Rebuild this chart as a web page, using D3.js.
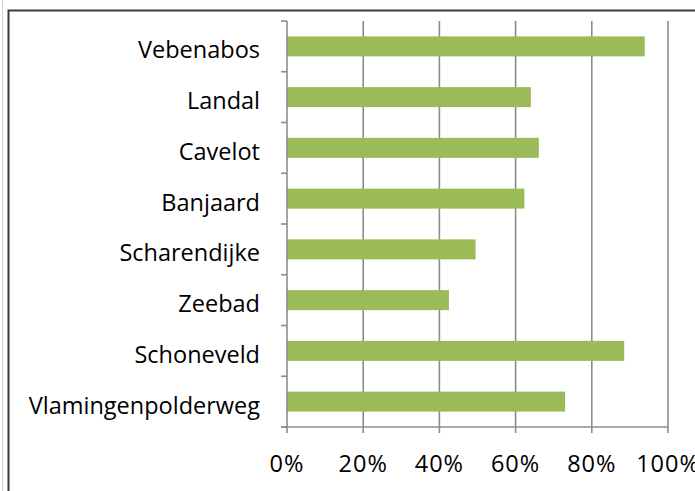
<!DOCTYPE html>
<html>
<head>
<meta charset="utf-8">
<script src="https://cdn.jsdelivr.net/npm/d3@7"></script>
<style>
  html, body { margin: 0; padding: 0; background: #fff; }
  svg { display: block; }
</style>
</head>
<body>
<svg id="chart" width="695" height="491"></svg>
<script>
// Locations (top to bottom) and their share, as fractions
const categories = ["Vebenabos", "Landal", "Cavelot", "Banjaard", "Scharendijke", "Zeebad", "Schoneveld", "Vlamingenpolderweg"];
const values = [0.939, 0.640, 0.661, 0.623, 0.495, 0.425, 0.885, 0.730];
const tickValues = [0, 0.2, 0.4, 0.6, 0.8, 1.0];
const tickLabels = ["0%", "20%", "40%", "60%", "80%", "100%"];

const svg = d3.select("#chart");
const W = 695, H = 491;
const plot = { left: 287, right: 668, top: 21, bottom: 427 };
const gridColor = "#8c8c8c";
const font = "'Open Sans', 'Liberation Sans', sans-serif";

// Outer frame
svg.append("line").attr("x1", 2.5).attr("x2", 2.5).attr("y1", 0).attr("y2", H)
  .attr("stroke", "#d0d0d0").attr("stroke-width", 1);
svg.append("path")
  .attr("d", `M8.5,${H} V10.5 H${W}`)
  .attr("fill", "none").attr("stroke", "#3a3a3a").attr("stroke-width", 2);

const x = d3.scaleLinear().domain([0, 1]).range([plot.left, plot.right]);
const yBand = d3.scaleBand().domain(categories).range([plot.top, plot.bottom]);
const barH = 20;

// Vertical gridlines
svg.append("g").selectAll("line").data(tickValues.slice(1)).join("line")
  .attr("x1", d => x(d)).attr("x2", d => x(d))
  .attr("y1", plot.top).attr("y2", plot.bottom)
  .attr("stroke", gridColor).attr("stroke-width", 1.6);

// Bars
svg.append("g").selectAll("rect").data(categories).join("rect")
  .attr("x", x(0))
  .attr("y", d => yBand(d) + yBand.bandwidth() / 2 - barH / 2)
  .attr("height", barH)
  .attr("width", (d, i) => x(values[i]) - x(0))
  .attr("fill", "#9bbb59");

// Category axis (left)
const gy = svg.append("g");
gy.append("line").attr("x1", plot.left).attr("x2", plot.left)
  .attr("y1", plot.top).attr("y2", plot.bottom)
  .attr("stroke", gridColor).attr("stroke-width", 1.6);
const boundaries = categories.map(c => yBand(c)).concat([plot.bottom]);
gy.selectAll("line.tick").data(boundaries).join("line").attr("class", "tick")
  .attr("x1", plot.left - 6).attr("x2", plot.left)
  .attr("y1", d => d).attr("y2", d => d)
  .attr("stroke", gridColor).attr("stroke-width", 1.6);
gy.selectAll("text").data(categories).join("text")
  .attr("x", 260)
  .attr("y", d => yBand(d) + yBand.bandwidth() / 2 + 12)
  .attr("text-anchor", "end")
  .attr("font-family", font).attr("font-size", 23.5)
  .attr("fill", "#000")
  .text(d => d);

// Value axis (bottom)
const gx = svg.append("g");
gx.append("line").attr("x1", plot.left - 6).attr("x2", plot.right)
  .attr("y1", plot.bottom).attr("y2", plot.bottom)
  .attr("stroke", gridColor).attr("stroke-width", 1.6);
gx.selectAll("line.tick").data(tickValues).join("line").attr("class", "tick")
  .attr("x1", d => x(d)).attr("x2", d => x(d))
  .attr("y1", plot.bottom).attr("y2", plot.bottom + 6)
  .attr("stroke", gridColor).attr("stroke-width", 1.6);
gx.selectAll("text").data(tickValues).join("text")
  .attr("x", d => x(d)).attr("y", 472)
  .attr("text-anchor", "middle")
  .attr("font-family", font).attr("font-size", 23.5).attr("letter-spacing", 1)
  .attr("fill", "#000")
  .text((d, i) => tickLabels[i]);
</script>
</body>
</html>
